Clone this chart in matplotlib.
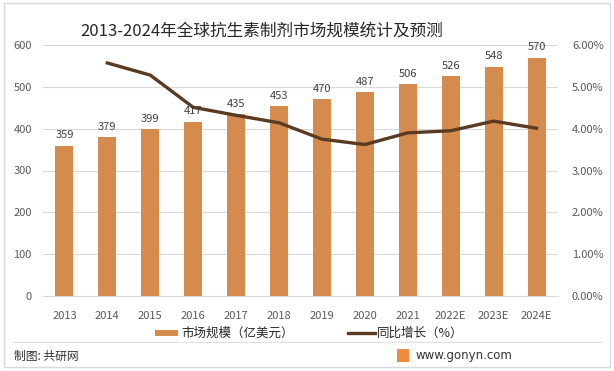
import matplotlib
matplotlib.use("Agg")
import matplotlib.pyplot as plt
from matplotlib.patches import Rectangle
from matplotlib.lines import Line2D

plt.rcParams['font.family'] = ['Noto Sans CJK SC', 'DejaVu Sans']

years = ['2013', '2014', '2015', '2016', '2017', '2018', '2019', '2020', '2021', '2022E', '2023E', '2024E']
market = [359, 379, 399, 417, 435, 453, 470, 487, 506, 526, 548, 570]
growth_years = years[1:]
growth = [5.57, 5.28, 4.51, 4.32, 4.14, 3.75, 3.62, 3.90, 3.95, 4.18, 4.01]

title = '2013-2024年全球抗生素制剂市场规模统计及预测'
bar_label = '市场规模（亿美元）'
line_label = '同比增长（%）'
source = '制图: 共研网'
site = 'www.gonyn.com'

bar_color = '#D58B4E'
line_color = '#5B3A22'
tick_color = '#595959'

W, H = 614, 371
fig = plt.figure(figsize=(W / 100, H / 100), dpi=100)
ax = fig.add_axes([43 / W, 1 - 296 / H, (558 - 43) / W, (296 - 45) / H])

x = list(range(len(years)))
ax.bar(x, market, width=0.42, color=bar_color, zorder=2)
ax.set_ylim(0, 600)
ax.set_xlim(-0.5, len(years) - 0.5)
ax.set_yticks(range(0, 601, 100))
ax.grid(axis='y', color='#D9D9D9', linewidth=0.8, zorder=0)
for s in ax.spines.values():
    s.set_visible(False)
ax.spines['bottom'].set_visible(True)
ax.spines['bottom'].set_color('#D9D9D9')
ax.tick_params(axis='y', length=0, labelsize=8, colors=tick_color, pad=8)
ax.tick_params(axis='x', length=0, labelsize=8, colors=tick_color, pad=11)
ax.set_xticks(x)
ax.set_xticklabels(years)
for xi, v in zip(x, market):
    ax.text(xi, v + 13, str(v), ha='center', va='bottom', fontsize=8, color='#404040', zorder=3)

ax2 = ax.twinx()
ax2.plot(x[1:], growth, color=line_color, linewidth=2.4, zorder=4)
ax2.set_ylim(0, 6)
ax2.set_yticks(range(0, 7))
ax2.set_yticklabels(['%.2f%%' % v for v in range(0, 7)])
for s in ax2.spines.values():
    s.set_visible(False)
ax2.tick_params(axis='y', length=0, labelsize=8, colors=tick_color, pad=10)

fig.text(262 / W, 1 - 31 / H, title, ha='center', va='center', fontsize=12, color='#262626')

# legend
fig.add_artist(Rectangle((155 / W, 1 - 336 / H), 23 / W, 6 / H, transform=fig.transFigure,
                         color=bar_color, linewidth=0))
fig.text(181 / W, 1 - 333 / H, bar_label, ha='left', va='center', fontsize=9, color='#262626')
fig.add_artist(Line2D([348 / W, 375 / W], [1 - 333 / H, 1 - 333 / H], transform=fig.transFigure,
                      color=line_color, linewidth=2.4))
fig.text(377 / W, 1 - 333 / H, line_label, ha='left', va='center', fontsize=9, color='#262626')

# frame and footer
fig.add_artist(Rectangle((4 / W, 1 - 367 / H), 606 / W, 364 / H, transform=fig.transFigure,
                         fill=False, edgecolor='#D9D9D9', linewidth=1))
fig.add_artist(Line2D([13 / W, 601 / W], [1 - 342 / H, 1 - 342 / H], transform=fig.transFigure,
                      color='#E0E0E0', linewidth=0.8))
fig.text(14 / W, 1 - 356 / H, source, ha='left', va='center', fontsize=8.5, color='#333333')
fig.add_artist(Rectangle((397 / W, 1 - 362 / H), 12 / W, 13 / H, transform=fig.transFigure,
                         color='#F08A3C', linewidth=0))
fig.text(415 / W, 1 - 356 / H, site, ha='left', va='center', fontsize=8.5, color='#333333',
         family=['DejaVu Sans'])

fig.savefig('out.png', dpi=100)
